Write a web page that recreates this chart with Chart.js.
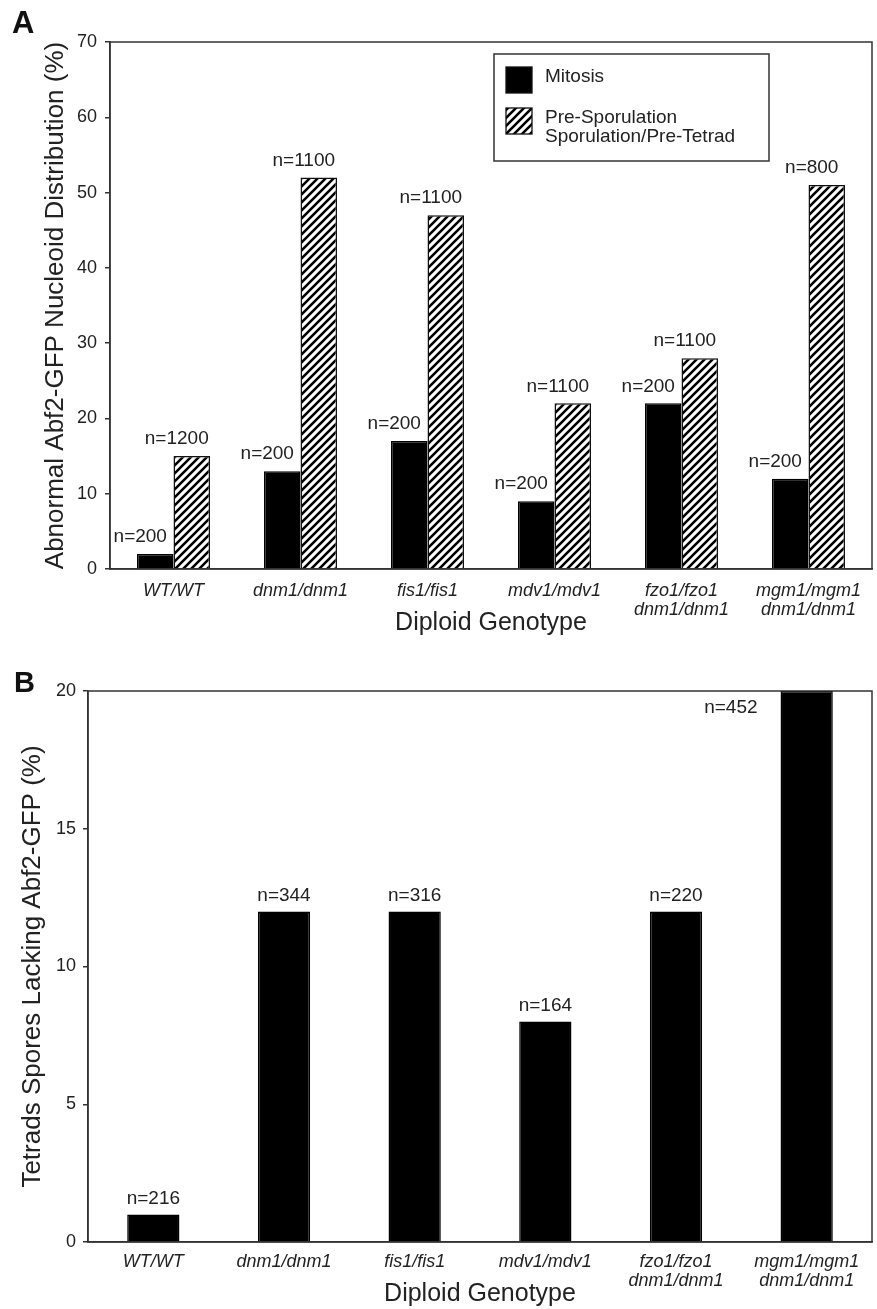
<!DOCTYPE html>
<html>
<head>
<meta charset="utf-8">
<title>Abf2-GFP nucleoid distribution in diploid genotypes</title>
<script src="https://cdn.jsdelivr.net/npm/chart.js@4.4.1/dist/chart.umd.min.js"></script>
<style>
  html, body { margin: 0; padding: 0; background: #fff; }
  #wrap { position: relative; width: 877px; height: 1309px; }
  canvas { position: absolute; left: 0; display: block; }
  #chartA { top: 0; }
  #chartB { top: 660px; }
</style>
</head>
<body>
<div id="wrap">
  <canvas id="chartA" width="877" height="660" style="width:877px;height:660px"></canvas>
  <canvas id="chartB" width="877" height="649" style="width:877px;height:649px"></canvas>
</div>
<script>
// Genotype categories (two-line labels for the double mutants)
const genotypes = [
  ['WT/WT'],
  ['dnm1/dnm1'],
  ['fis1/fis1'],
  ['mdv1/mdv1'],
  ['fzo1/fzo1', 'dnm1/dnm1'],
  ['mgm1/mgm1', 'dnm1/dnm1']
];

// Panel A: abnormal nucleoid distribution (%)
const mitosisPct     = [2, 13, 17, 9, 22, 12];
const mitosisN       = [200, 200, 200, 200, 200, 200];
const sporulationPct = [15, 52, 47, 22, 28, 51];
const sporulationN   = [1200, 1100, 1100, 1100, 1100, 800];
const ticksA         = [0, 10, 20, 30, 40, 50, 60, 70];

// Panel B: tetrad spores lacking Abf2-GFP (%)
const tetradPct = [1, 12, 12, 8, 12, 20];
const tetradN   = [216, 344, 316, 164, 220, 452];
const ticksB    = [0, 5, 10, 15, 20];

const FONT = '"Liberation Sans", Arial, Helvetica, sans-serif';
const INK = '#222';
const AXIS = '#333';

// Diagonal "/" hatch fill used for the sporulation bars
function makeHatch(ctx) {
  const c = document.createElement('canvas');
  c.width = 8; c.height = 8;
  const g = c.getContext('2d');
  g.fillStyle = '#fff';
  g.fillRect(0, 0, 8, 8);
  g.strokeStyle = '#000';
  g.lineWidth = 2.6;
  g.beginPath();
  g.moveTo(-2, 10); g.lineTo(10, -2);
  g.moveTo(-2, 2);  g.lineTo(2, -2);
  g.moveTo(6, 10);  g.lineTo(10, 6);
  g.stroke();
  return ctx.createPattern(c, 'repeat');
}

// Closed frame around the plotting area
const frame = {
  id: 'frame',
  afterDraw(chart) {
    const { ctx, chartArea: a } = chart;
    ctx.save();
    ctx.strokeStyle = AXIS;
    ctx.lineWidth = 1.5;
    ctx.strokeRect(a.left, a.top, a.right - a.left, a.bottom - a.top);
    ctx.restore();
  }
};

// "n=..." sample-size labels above every bar
const countLabels = {
  id: 'countLabels',
  afterDatasetsDraw(chart, args, opts) {
    const { ctx, chartArea } = chart;
    ctx.save();
    ctx.font = '19px ' + FONT;
    ctx.fillStyle = INK;
    ctx.textBaseline = 'middle';
    chart.data.datasets.forEach((ds, i) => {
      chart.getDatasetMeta(i).data.forEach((bar, j) => {
        const txt = 'n=' + ds.counts[j];
        let x = bar.x + opts.dx;
        let y = bar.y + opts.dy;
        ctx.textAlign = 'center';
        if (y < chartArea.top + 8) {
          // bar runs off the top of the axis: put its label beside it
          x = bar.x - bar.width / 2 - 23;
          y = chartArea.top + 17;
          ctx.textAlign = 'right';
        }
        ctx.fillText(txt, x, y);
      });
    });
    ctx.restore();
  }
};

// Boxed legend inside the plotting area of panel A
const boxLegend = {
  id: 'boxLegend',
  afterDraw(chart, args, o) {
    if (!o || !o.display) return;
    const ctx = chart.ctx;
    ctx.save();
    ctx.lineWidth = 1.5;
    ctx.strokeStyle = AXIS;
    ctx.fillStyle = '#fff';
    ctx.fillRect(o.x, o.y, o.w, o.h);
    ctx.strokeRect(o.x, o.y, o.w, o.h);
    ctx.font = '19px ' + FONT;
    ctx.textBaseline = 'middle';
    ctx.textAlign = 'left';
    chart.data.datasets.forEach((ds, i) => {
      const sy = o.y + o.rows[i];
      ctx.fillStyle = ds.backgroundColor;
      ctx.fillRect(o.x + 12, sy, 26, 26);
      ctx.strokeStyle = '#111';
      ctx.lineWidth = 1.3;
      ctx.strokeRect(o.x + 12, sy, 26, 26);
      const lines = Array.isArray(ds.label) ? ds.label : [ds.label];
      ctx.fillStyle = INK;
      lines.forEach((t, k) => ctx.fillText(t, o.x + 51, sy + 9.5 + k * 19));
    });
    ctx.restore();
  }
};

// Bold panel letter in the top-left corner
const panelTag = {
  id: 'panelTag',
  afterDraw(chart, args, o) {
    const ctx = chart.ctx;
    ctx.save();
    ctx.font = 'bold ' + o.size + 'px ' + FONT;
    ctx.fillStyle = '#111';
    ctx.textAlign = 'left';
    ctx.textBaseline = 'alphabetic';
    ctx.fillText(o.text, o.x, o.y);
    ctx.restore();
  }
};

function axes(cfg) {
  return {
    x: {
      grid: { display: false, drawTicks: false },
      border: { display: true, color: AXIS, width: 1.5 },
      ticks: {
        font: { family: FONT, size: 18, style: 'italic', lineHeight: 1.06 },
        color: INK, padding: cfg.xPad, maxRotation: 0, minRotation: 0, autoSkip: false
      },
      title: {
        display: true, text: 'Diploid Genotype',
        font: { family: FONT, size: 25 }, color: INK,
        padding: { top: 0, bottom: cfg.xTitlePad }
      },
      afterFit(s) { s.height = cfg.xHeight; }
    },
    y: {
      min: cfg.ticks[0],
      max: cfg.ticks[cfg.ticks.length - 1],
      afterBuildTicks(s) { s.ticks = cfg.ticks.map(v => ({ value: v })); },
      grid: { drawOnChartArea: false, drawTicks: true, tickLength: 5, color: AXIS, lineWidth: 1.5 },
      border: { display: true, color: AXIS, width: 1.5 },
      ticks: { font: { family: FONT, size: 18 }, color: INK, padding: cfg.yPad },
      title: {
        display: true, text: cfg.yTitle,
        font: { family: FONT, size: 26 }, color: INK,
        padding: { top: cfg.yTitlePad, bottom: 0 }
      },
      afterFit(s) { s.width = cfg.yWidth; }
    }
  };
}

const ctxA = document.getElementById('chartA').getContext('2d');
const ctxB = document.getElementById('chartB').getContext('2d');
const hatch = makeHatch(ctxA);

new Chart(ctxA, {
  type: 'bar',
  data: {
    labels: genotypes,
    datasets: [
      { label: 'Mitosis', data: mitosisPct, counts: mitosisN,
        backgroundColor: '#000', borderColor: '#000', borderWidth: 1.5 },
      { label: ['Pre-Sporulation', 'Sporulation/Pre-Tetrad'], data: sporulationPct, counts: sporulationN,
        backgroundColor: hatch, borderColor: '#111', borderWidth: 1.5 }
    ]
  },
  options: {
    responsive: false, animation: false, devicePixelRatio: 1,
    layout: { padding: { top: 42, right: 5, left: 0, bottom: 0 } },
    datasets: { bar: { categoryPercentage: 0.575, barPercentage: 1 } },
    plugins: {
      legend: { display: false },
      tooltip: { enabled: false },
      countLabels: { dx: -15, dy: -17 },
      boxLegend: { display: true, x: 494, y: 54, w: 275, h: 107, rows: [13, 54] },
      panelTag: { text: 'A', x: 12, y: 33, size: 31 }
    },
    scales: axes({
      ticks: ticksA, yTitle: 'Abnormal Abf2-GFP Nucleoid Distribution (%)',
      xPad: 12, xTitlePad: 22, xHeight: 91, yPad: 8, yTitlePad: 40, yWidth: 110
    })
  },
  plugins: [frame, countLabels, boxLegend, panelTag]
});

new Chart(ctxB, {
  type: 'bar',
  data: {
    labels: genotypes,
    datasets: [
      { label: 'Tetrads', data: tetradPct, counts: tetradN,
        backgroundColor: '#000', borderColor: '#000', borderWidth: 1.5 }
    ]
  },
  options: {
    responsive: false, animation: false, devicePixelRatio: 1,
    layout: { padding: { top: 31, right: 5, left: 0, bottom: 0 } },
    datasets: { bar: { categoryPercentage: 0.4, barPercentage: 1 } },
    plugins: {
      legend: { display: false },
      tooltip: { enabled: false },
      countLabels: { dx: 0, dy: -16 },
      boxLegend: { display: false },
      panelTag: { text: 'B', x: 14, y: 32, size: 29 }
    },
    scales: axes({
      ticks: ticksB, yTitle: 'Tetrads Spores Lacking Abf2-GFP (%)',
      xPad: 10, xTitlePad: 0, xHeight: 67, yPad: 7, yTitlePad: 17, yWidth: 88
    })
  },
  plugins: [frame, countLabels, panelTag]
});
</script>
</body>
</html>
